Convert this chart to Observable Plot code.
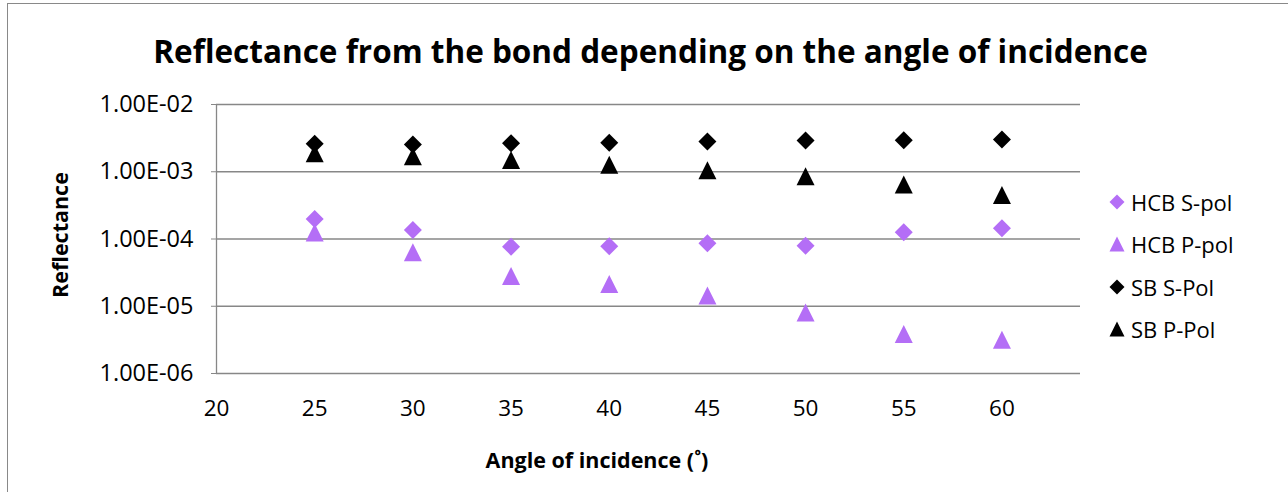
<!DOCTYPE html>
<html>
<head>
<meta charset="utf-8">
<script src="https://cdn.jsdelivr.net/npm/d3@7"></script>
<script src="https://cdn.jsdelivr.net/npm/@observablehq/plot@0.6"></script>
<style>
  html, body { margin: 0; padding: 0; background: #fff; overflow: hidden; }
  #wrap { position: relative; width: 1288px; height: 492px; overflow: hidden; font-family: "Open Sans", sans-serif; color: #000; }
  #wrap svg.plot { position: absolute; left: 0; top: 0; }
  .frame { position: absolute; left: 7px; top: 3px; width: 1400px; height: 700px; border: 1px solid #898989; box-sizing: border-box; }
  .title { position: absolute; left: 0; width: 1301px; top: 35px; text-align: center; font-weight: 700; font-size: 31.5px; line-height: 31.5px; white-space: nowrap; }
  .xlabel { position: absolute; left: 397px; width: 400px; top: 449px; text-align: center; font-weight: 700; font-size: 21.5px; line-height: 21.5px; white-space: nowrap; }
  .ylabel { position: absolute; left: 60px; top: 235px; transform: translate(-50%, -50%) rotate(-90deg); font-weight: 700; font-size: 21.5px; line-height: 21.5px; white-space: nowrap; }
  .leg { position: absolute; left: 1107px; height: 30px; display: flex; align-items: center; font-size: 22px; white-space: nowrap; }
  .leg svg { width: 20px; height: 20px; margin-right: 4px; }
</style>
</head>
<body>
<div id="wrap">
  <div class="frame"></div>
</div>
<script>
// ---- data ----
const angles = [25, 30, 35, 40, 45, 50, 55, 60];
const hcbS = [1.99e-4, 1.36e-4, 7.7e-5, 7.8e-5, 8.65e-5, 7.97e-5, 1.26e-4, 1.44e-4];
const hcbP = [1.25e-4, 6.35e-5, 2.82e-5, 2.14e-5, 1.44e-5, 8.1e-6, 3.86e-6, 3.18e-6];
const sbS  = [2.60e-3, 2.54e-3, 2.66e-3, 2.69e-3, 2.81e-3, 2.91e-3, 2.94e-3, 3.01e-3];
const sbP  = [1.89e-3, 1.70e-3, 1.50e-3, 1.27e-3, 1.05e-3, 8.57e-4, 6.45e-4, 4.53e-4];
const seriesNames = ["HCB S-pol", "HCB P-pol", "SB S-Pol", "SB P-Pol"];
const xTicks = [20, 25, 30, 35, 40, 45, 50, 55, 60];
const yTicks = [1e-6, 1e-5, 1e-4, 1e-3, 1e-2];
const yTickLabels = ["1.00E-06", "1.00E-05", "1.00E-04", "1.00E-03", "1.00E-02"];
const titleText = "Reflectance from the bond depending on the angle of incidence";
const xTitle = "Angle of incidence (˚)";
const yTitle = "Reflectance";

const PURPLE = "#B46EF6";
const GRID = "#878787";

// Excel-like marker shapes (square bounding box, half-size = r)
const diamond = { draw(ctx, size) { const r = Math.sqrt(size / Math.PI); ctx.moveTo(0, -r); ctx.lineTo(r, 0); ctx.lineTo(0, r); ctx.lineTo(-r, 0); ctx.closePath(); } };
const triangle = { draw(ctx, size) { const r = Math.sqrt(size / Math.PI); ctx.moveTo(0, -r); ctx.lineTo(r, r); ctx.lineTo(-r, r); ctx.closePath(); } };

const seriesDefs = [
  { name: seriesNames[0], values: hcbS, fill: PURPLE, symbol: diamond, shape: "d" },
  { name: seriesNames[1], values: hcbP, fill: PURPLE, symbol: triangle, shape: "t" },
  { name: seriesNames[2], values: sbS, fill: "#000", symbol: diamond, shape: "d" },
  { name: seriesNames[3], values: sbP, fill: "#000", symbol: triangle, shape: "t" }
];

const dotMarks = seriesDefs.map(s =>
  Plot.dot(angles.map((a, i) => ({ angle: a, value: s.values[i] })), {
    x: "angle", y: "value", symbol: s.symbol, fill: s.fill, stroke: "none", r: 9
  })
);

const chart = Plot.plot({
  width: 1288,
  height: 492,
  marginLeft: 216,
  marginRight: 208,
  marginTop: 104,
  marginBottom: 119,
  x: { domain: [20, 64] },
  y: { type: "log", domain: [1e-6, 1e-2] },
  style: { fontFamily: "'Open Sans', sans-serif", fontSize: "22px", color: "#000", background: "transparent", overflow: "visible" },
  marks: [
    Plot.ruleY(yTicks, { y: d => d, stroke: GRID, strokeWidth: 1.3 }),
    Plot.ruleX([20], { x: d => d, stroke: GRID, strokeWidth: 1.3 }),
    Plot.axisY(yTicks, { tickSize: 5, tickPadding: 18, stroke: GRID, fontSize: 23.5, tickFormat: (d) => yTickLabels[yTicks.indexOf(d)], label: null }),
    Plot.axisX(xTicks, { tickSize: 0, tickPadding: 27, fontSize: 22.5, tickFormat: d => String(d), label: null }),
    ...dotMarks
  ]
});
chart.classList.add("plot");
const wrap = document.getElementById("wrap");
wrap.appendChild(chart);

function addDiv(cls, text) {
  const d = document.createElement("div");
  d.className = cls;
  d.textContent = text;
  wrap.appendChild(d);
  return d;
}
addDiv("title", titleText);
addDiv("xlabel", xTitle);
addDiv("ylabel", yTitle);

// legend
const legendY = [202, 244, 287, 329];
seriesDefs.forEach((s, i) => {
  const row = document.createElement("div");
  row.className = "leg";
  row.style.top = (legendY[i] - 15) + "px";
  const ns = "http://www.w3.org/2000/svg";
  const svg = document.createElementNS(ns, "svg");
  svg.setAttribute("viewBox", "-10 -10 20 20");
  const p = document.createElementNS(ns, "path");
  p.setAttribute("d", s.shape === "d" ? "M0,-7.5L7.5,0L0,7.5L-7.5,0Z" : "M0,-7.5L7.5,7.5L-7.5,7.5Z");
  p.setAttribute("fill", s.fill);
  svg.appendChild(p);
  row.appendChild(svg);
  const t = document.createElement("span");
  t.textContent = s.name;
  row.appendChild(t);
  wrap.appendChild(row);
});
</script>
</body>
</html>
